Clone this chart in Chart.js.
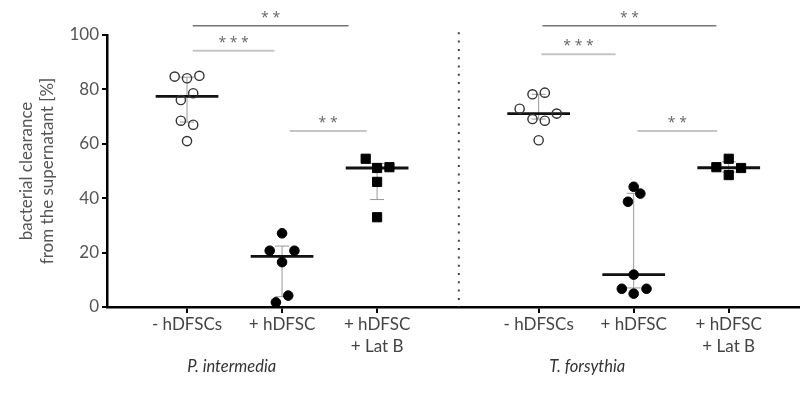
<!DOCTYPE html>
<html>
<head>
<meta charset="utf-8">
<script src="https://cdn.jsdelivr.net/npm/chart.js@4/dist/chart.umd.min.js"></script>
<style>
  html, body { margin: 0; padding: 0; background: #fff; }
  #wrap { width: 800px; height: 403px; }
</style>
</head>
<body>
<div id="wrap"><canvas id="plot"></canvas></div>
<script>
// posiciones de las categorias en el eje x
let catPos = [1, 2, 3, 4.7, 5.7, 6.7];
let catLabels = [
  "- hDFSCs", "+ hDFSC", ["+ hDFSC", "+ Lat B"],
  "- hDFSCs", "+ hDFSC", ["+ hDFSC", "+ Lat B"],
];
let groupNames = ["P. intermedia", "T. forsythia"];
let groupNamePos = [1.47, 5.21];
let separatorPos = 3.86;

// valores (%) y desplazamiento horizontal de cada punto
let sinCelulasPi = [84.7, 84.1, 85.0, 78.6, 76.1, 68.5, 67.0, 61.0];
let sinCelulasPiDx = [-0.13, 0, 0.13, 0.065, -0.065, -0.065, 0.065, 0];
let conCelulasPi = [27.1, 20.7, 20.7, 16.5, 4.2, 1.7];
let conCelulasPiDx = [0, -0.13, 0.13, 0, 0.065, -0.065];
let latBPi = [54.5, 51.1, 51.4, 46.0, 33.0];
let latBPiDx = [-0.12, 0, 0.13, 0, 0];

let sinCelulasTf = [78.2, 78.8, 72.9, 71.1, 69.1, 68.5, 61.3];
let sinCelulasTfDx = [-0.065, 0.065, -0.2, 0.19, -0.065, 0.065, 0];
let conCelulasTf = [44.2, 41.7, 38.7, 11.9, 6.7, 6.7, 4.9];
let conCelulasTfDx = [0, 0.07, -0.06, 0, -0.125, 0.135, 0];
let latBTf = [54.5, 51.4, 51.1, 48.5];
let latBTfDx = [0, -0.13, 0.13, 0];

// mediana y rango de cada grupo
let medianas = [77.4, 18.6, 51.1, 71.1, 11.9, 51.2];
let rangoAlto = [84.5, 22.4, 52.8, 78.2, 41.8, 53.4];
let rangoBajo = [68.0, 3.8, 39.5, 69.1, 7.0, 49.6];

// barras de significancia
let sigDesde = [1.06, 1.06, 2.08, 4.74, 4.73, 5.74];
let sigHasta = [2.70, 1.92, 2.89, 6.57, 5.51, 6.58];
let sigY = [103.4, 94.2, 64.7, 103.4, 92.9, 64.7];
let sigTexto = ["* *", "* * *", "* *", "* *", "* * *", "* *"];
let sigOscura = [true, false, false, true, false, false];

let puntos = (vals, dx, x) => vals.map((v, i) => ({ x: x + dx[i], y: v }));

let abierto = { pointStyle: "circle", pointRadius: 4.6, backgroundColor: "rgba(255,255,255,0)", borderColor: "#333", pointBorderWidth: 1.4 };
let lleno = { pointStyle: "circle", pointRadius: 4.8, backgroundColor: "#000", borderColor: "#000", pointBorderWidth: 1 };
let cuadro = { pointStyle: "rect", pointRadius: 6.5, backgroundColor: "#000", borderColor: "#000", pointBorderWidth: 1 };

let datasets = [
  { data: puntos(sinCelulasPi, sinCelulasPiDx, catPos[0]), ...abierto },
  { data: puntos(conCelulasPi, conCelulasPiDx, catPos[1]), ...lleno },
  { data: puntos(latBPi, latBPiDx, catPos[2]), ...cuadro },
  { data: puntos(sinCelulasTf, sinCelulasTfDx, catPos[3]), ...abierto },
  { data: puntos(conCelulasTf, conCelulasTfDx, catPos[4]), ...lleno },
  { data: puntos(latBTf, latBTfDx, catPos[5]), ...cuadro },
].map((d) => ({ ...d, clip: false }));

let resumen = {
  id: "resumen",
  beforeDatasetsDraw(chart) {
    let ctx = chart.ctx;
    let xs = chart.scales.x;
    let ys = chart.scales.y;
    ctx.save();
    // separador punteado
    ctx.strokeStyle = "#444";
    ctx.lineWidth = 2;
    ctx.setLineDash([2, 6.3]);
    ctx.beginPath();
    ctx.moveTo(xs.getPixelForValue(separatorPos), ys.getPixelForValue(101));
    ctx.lineTo(xs.getPixelForValue(separatorPos), ys.getPixelForValue(0));
    ctx.stroke();
    ctx.setLineDash([]);
    // rangos
    ctx.strokeStyle = "#999";
    ctx.lineWidth = 1;
    catPos.forEach((c, i) => {
      let x = xs.getPixelForValue(c);
      let hi = ys.getPixelForValue(rangoAlto[i]);
      let lo = ys.getPixelForValue(rangoBajo[i]);
      ctx.beginPath();
      ctx.moveTo(x, hi); ctx.lineTo(x, lo);
      ctx.moveTo(x - 7, hi); ctx.lineTo(x + 7, hi);
      ctx.moveTo(x - 7, lo); ctx.lineTo(x + 7, lo);
      ctx.stroke();
    });
    // medianas
    ctx.strokeStyle = "#111";
    ctx.lineWidth = 2.8;
    catPos.forEach((c, i) => {
      let y = ys.getPixelForValue(medianas[i]);
      ctx.beginPath();
      ctx.moveTo(xs.getPixelForValue(c - 0.33), y);
      ctx.lineTo(xs.getPixelForValue(c + 0.33), y);
      ctx.stroke();
    });
    // significancia
    ctx.textAlign = "center";
    ctx.textBaseline = "middle";
    ctx.font = "14px 'Open Sans'";
    sigDesde.forEach((d, i) => {
      let x1 = xs.getPixelForValue(d);
      let x2 = xs.getPixelForValue(sigHasta[i]);
      let y = ys.getPixelForValue(sigY[i]);
      ctx.strokeStyle = sigOscura[i] ? "#747474" : "#c6c6c6";
      ctx.lineWidth = sigOscura[i] ? 1.5 : 2;
      ctx.beginPath();
      ctx.moveTo(x1, y); ctx.lineTo(x2, y);
      ctx.stroke();
      ctx.fillStyle = "#666";
      ctx.fillText(sigTexto[i], (x1 + x2) / 2, y - 8);
    });
    ctx.restore();
  },
  afterDraw(chart) {
    let ctx = chart.ctx;
    let xs = chart.scales.x;
    ctx.save();
    ctx.fillStyle = "#333";
    ctx.font = "italic 16.5px Lato";
    ctx.textAlign = "center";
    ctx.textBaseline = "middle";
    groupNames.forEach((g, i) => {
      ctx.fillText(g, xs.getPixelForValue(groupNamePos[i]), 367);
    });
    ctx.restore();
  },
};

let config = {
  type: "scatter",
  data: { datasets: datasets },
  options: {
    responsive: true,
    maintainAspectRatio: false,
    animation: false,
    layout: { autoPadding: false, padding: { top: 35, right: 0, bottom: 0, left: 0 } },
    plugins: { legend: { display: false }, tooltip: { enabled: false } },
    scales: {
      x: {
        type: "linear",
        min: 0.158,
        max: 7.45,
        afterFit: (s) => { s.height = 96; },
        afterBuildTicks: (s) => { s.ticks = catPos.map((v) => ({ value: v })); },
        border: { display: true, color: "#000", width: 2.5 },
        grid: { drawOnChartArea: false, color: "#000", lineWidth: 2, tickLength: 6 },
        ticks: {
          autoSkip: false,
          maxRotation: 0,
          padding: 0,
          color: "#444",
          font: { family: "Lato", size: 17, lineHeight: 1.3 },
          callback: (v, i) => catLabels[i],
        },
      },
      y: {
        min: 0,
        max: 100,
        afterFit: (s) => { s.width = 107; },
        border: { display: true, color: "#000", width: 2.5 },
        grid: { drawOnChartArea: false, color: "#000", lineWidth: 2, tickLength: 5 },
        ticks: {
          stepSize: 20,
          padding: 3,
          color: "#555",
          font: { family: "Lato", size: 17 },
        },
        title: {
          display: true,
          text: ["bacterial clearance", "from the supernatant [%]"],
          color: "#555",
          font: { family: "Lato", size: 17, lineHeight: 1.25 },
          padding: { top: 16, bottom: 0 },
        },
      },
    },
  },
  plugins: [resumen],
};

let chart1 = new Chart(document.getElementById("plot"), config);
</script>
</body>
</html>
